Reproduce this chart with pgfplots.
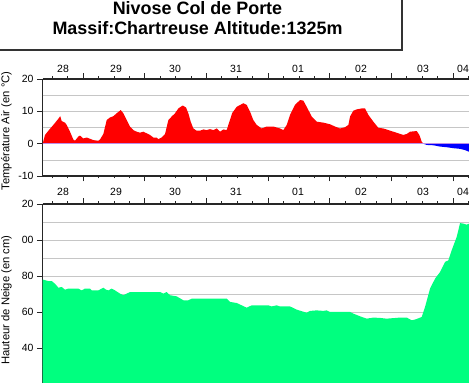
\documentclass[border=0pt]{standalone}
\usepackage{fontspec}
\setmainfont{Liberation Sans}
\usepackage{pgfplots}
\pgfplotsset{compat=1.18}

\definecolor{snow}{RGB}{0,255,127}
\definecolor{zerol}{RGB}{190,140,230}

\pgfplotsset{
 common/.style={
  scale only axis, width=432.5bp,
  xmin=0.343, xmax=7.356,
  tick align=outside,
  major tick length=5.5bp, minor tick length=2.5bp,
  xtick={0,...,8}, minor x tick num=3, xticklabels={},
  extra x ticks={0.676,1.535,2.492,3.481,4.487,5.508,6.513,7.162},
  extra x tick labels={28,29,30,31,01,02,03,04},
  axis line style={line width=1.1bp, black!85},
  tick style={line width=0.7bp, black!85},
  font=\fontsize{10.5}{12}\selectfont,
  grid style={gray!45, line width=0.6bp},
  ymajorgrids,
 }
}

\begin{document}
\begin{tikzpicture}
\useasboundingbox (0,0) rectangle (469bp,383bp);
\clip (0,0) rectangle (469bp,383bp);

% title box
\draw[black!80, line width=1.6bp] (-5bp,333bp) rectangle (402bp,390bp);
\node[font=\bfseries\fontsize{18}{20}\selectfont, anchor=base] at (197.5bp,368bp) {Nivose Col de Porte};
\node[font=\bfseries\fontsize{18}{20}\selectfont, anchor=base] at (197.5bp,348bp) {Massif:Chartreuse Altitude:1325m};

% temperature panel
\begin{axis}[common, at={(42.5bp,207bp)}, anchor=south west, height=97bp,
  ymin=-10, ymax=20, ytick={-10,0,10,20}, yticklabels={-10,0,10,20},
  extra y ticks={-5,5,15}, extra y tick labels={},
  extra y tick style={major tick length=0pt, grid=major},
  extra x tick style={major tick length=0pt, xticklabel style={yshift=2.5bp}},
  axis x line=box, axis y line*=left, xticklabel pos=upper]
\addplot[fill=red, draw=none] coordinates {
(0.346,0) (0.384,2.7) (0.438,4.0) (0.519,5.8) (0.600,7.7) (0.630,8.5) (0.654,7.0) (0.708,6.5) (0.735,5.8) (0.789,3.7) (0.843,1.3) (0.870,0.9) (0.924,2.2) (0.951,2.5) (1.005,1.6) (1.060,1.9) (1.114,1.5) (1.168,1.1) (1.249,0.9) (1.276,1.3) (1.330,3.0) (1.384,7.3) (1.438,8.1) (1.492,8.5) (1.546,9.4) (1.611,10.4) (1.654,9.4) (1.708,7.3) (1.762,5.3) (1.816,4.2) (1.870,3.7) (1.924,3.4) (1.978,3.7) (2.032,3.2) (2.086,2.7) (2.140,1.9) (2.195,1.9) (2.222,1.4) (2.276,1.9) (2.330,3.0) (2.384,7.3) (2.438,8.4) (2.492,9.4) (2.546,10.9) (2.616,11.8) (2.670,11.2) (2.708,9.4) (2.746,6.8) (2.789,4.7) (2.843,4.0) (2.897,4.0) (2.951,4.4) (3.005,4.2) (3.059,4.5) (3.113,4.2) (3.168,4.7) (3.222,3.7) (3.276,4.4) (3.330,4.2) (3.373,6.8) (3.420,9.5) (3.492,11.4) (3.600,12.5) (3.654,12.0) (3.708,9.9) (3.762,7.3) (3.816,5.8) (3.897,4.7) (3.978,5.3) (4.086,5.3) (4.194,4.7) (4.249,4.2) (4.303,5.8) (4.357,8.9) (4.438,12.0) (4.519,13.5) (4.573,13.3) (4.627,11.4) (4.708,8.4) (4.789,6.8) (4.897,6.5) (5.005,6.0) (5.086,5.3) (5.167,4.7) (5.249,5.1) (5.303,5.8) (5.330,8.4) (5.384,10.2) (5.438,10.6) (5.519,10.9) (5.573,10.9) (5.627,8.9) (5.708,6.8) (5.789,4.9) (5.870,4.7) (5.951,4.2) (6.032,3.7) (6.113,3.2) (6.194,2.7) (6.249,3.0) (6.303,3.7) (6.411,3.9) (6.454,2.7) (6.492,0.6) (6.519,0)
} \closedcycle;
\addplot[fill=blue, draw=none] coordinates {
(6.519,0) (6.573,-0.4) (6.681,-0.5) (6.789,-0.9) (6.897,-1.1) (7.005,-1.4) (7.114,-1.6) (7.195,-2.0) (7.260,-2.5) (7.360,-2.8) (7.360,0)
} \closedcycle;
\addplot[zerol, line width=0.7bp] coordinates {(0.343,0) (7.356,0)};
\end{axis}

% snow panel
\begin{axis}[common, at={(42.5bp,-19bp)}, anchor=south west, height=198bp,
  ymin=10, ymax=120, ytick={20,40,60,80,100,120}, yticklabels={,40,60,80,00,20},
  extra y ticks={30,50,70,90,110}, extra y tick labels={},
  extra y tick style={major tick length=0pt, grid=major},
  extra x tick style={major tick length=0pt, xticklabel style={yshift=4.5bp}},
  axis x line*=top, axis y line*=left]
\addplot[fill=snow, draw=none] coordinates {
(0.346,78) (0.438,77.2) (0.492,77.2) (0.546,75.7) (0.600,73.5) (0.654,73.9) (0.708,72.4) (0.762,73) (0.924,73) (0.978,72) (1.032,73) (1.114,73) (1.141,72) (1.249,72) (1.330,73.5) (1.373,72.4) (1.411,72) (1.465,73) (1.519,72) (1.600,70.2) (1.654,69.3) (1.708,70.2) (1.762,71.1) (2.249,71.1) (2.303,70.2) (2.357,71.1) (2.411,69.3) (2.519,68.7) (2.627,66.5) (2.708,66.5) (2.762,67.4) (3.330,67.4) (3.384,65.6) (3.492,65) (3.573,63.7) (3.654,62.4) (3.735,63.7) (4.005,63.7) (4.059,63.1) (4.140,63.7) (4.194,63.1) (4.357,63.1) (4.465,61.3) (4.627,59.6) (4.681,60.6) (4.789,60.9) (4.897,60.6) (4.951,60.9) (5.005,60) (5.330,60) (5.384,59.1) (5.492,57.6) (5.600,56.3) (5.708,56.9) (5.816,56.7) (5.924,56.3) (6.140,56.9) (6.249,56.9) (6.330,55.4) (6.384,55.8) (6.492,57.2) (6.546,62.8) (6.627,73) (6.708,78.5) (6.789,82.2) (6.870,87.8) (6.924,88.7) (6.978,94.3) (7.059,101.7) (7.114,109.4) (7.168,109.1) (7.222,108.5) (7.260,109.1) (7.360,109)
} \closedcycle;
\end{axis}

\node[rotate=90, font=\fontsize{11.3}{13}\selectfont] at (6.5bp,252bp) {Température Air (en °C)};
\node[rotate=90, font=\fontsize{11.3}{13}\selectfont] at (6.5bp,83bp) {Hauteur de Neige (en cm)};
\end{tikzpicture}
\end{document}
